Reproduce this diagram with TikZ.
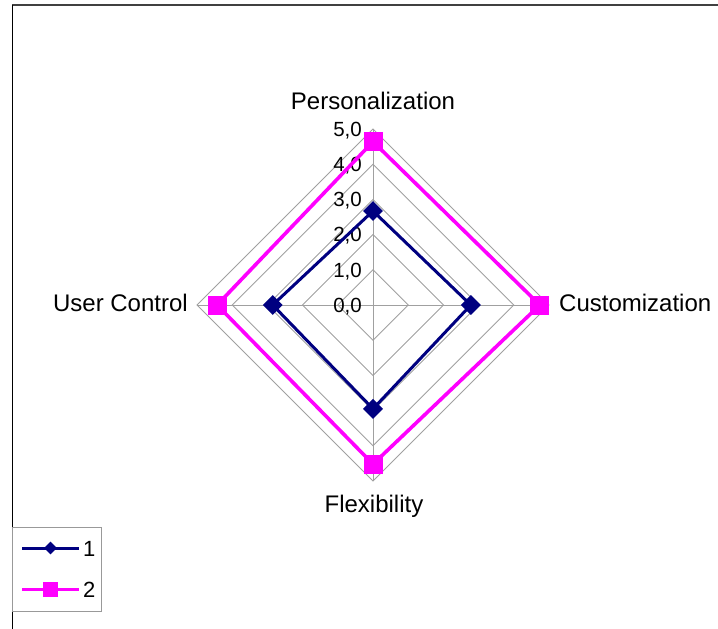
\documentclass[tikz,border=0pt]{standalone}
\usepackage{fontspec}
\setmainfont{Liberation Sans}
\usetikzlibrary{shapes.geometric}
\definecolor{navyline}{HTML}{000080}
\definecolor{pinkline}{HTML}{FF00FF}
\definecolor{gridgray}{HTML}{A0A0A0}
\begin{document}
\begin{tikzpicture}[x=1pt,y=-1pt,
  gridline/.style={draw=gridgray, line width=0.9pt},
  axislabel/.style={font=\fontsize{24}{27}\selectfont, inner sep=0pt},
  ticklabel/.style={font=\fontsize{20.5}{23}\selectfont, inner sep=0pt, anchor=base east},
  seriesA/.style={draw=navyline, line width=3pt, line join=miter},
  seriesB/.style={draw=pinkline, line width=3.6pt, line join=miter},
  markA/.style={diamond, fill=navyline, inner sep=0pt, minimum width=20pt, minimum height=20pt},
  markB/.style={rectangle, fill=pinkline, inner sep=0pt, minimum size=19pt},
  legmarkA/.style={diamond, fill=navyline, inner sep=0pt, minimum width=13pt, minimum height=13pt},
  legmarkB/.style={rectangle, fill=pinkline, inner sep=0pt, minimum size=15pt},
  legtext/.style={font=\fontsize{22}{26}\selectfont, inner sep=0pt, anchor=base west}]
\useasboundingbox (0,0) rectangle (718,629);

% chart frame
\draw[black!75, line width=2pt] (12,5) -- (718,5);
\draw[black, line width=1pt] (12,5) -- (12,629);

% radar grid: centre and unit length
\def\cx{373}\def\cy{305}\def\u{35.2}
\coordinate (c) at (\cx,\cy);
\foreach \k in {1,...,5}{
  \draw[gridline] (\cx,{\cy-\k*\u}) -- ({\cx+\k*\u},\cy) -- (\cx,{\cy+\k*\u}) -- ({\cx-\k*\u},\cy) -- cycle;
}
\coordinate (top) at (\cx,{\cy-5*\u});
\coordinate (bot) at (\cx,{\cy+5*\u});
\coordinate (lft) at ({\cx-5*\u},\cy);
\coordinate (rgt) at ({\cx+5*\u},\cy);
\draw[gridline] (top) -- (bot);
\draw[gridline] (lft) -- (rgt);

% scale labels
\foreach \k in {0,...,5}{
  \node[ticklabel] (t\k) at (362,{\cy-\k*\u+7.3}) {\k,0};
}

% axis labels
\node[axislabel, anchor=base] (pers) at (373,109) {Personalization};
\node[axislabel, anchor=base west] (cust) at (559,311) {Customization};
\node[axislabel, anchor=base] (flex) at (374,512) {Flexibility};
\node[axislabel, anchor=base east] (user) at (188,311) {User Control};

% series 1
\coordinate (a1) at (\cx,{\cy-2.67*\u});
\coordinate (a2) at ({\cx+2.78*\u},\cy);
\coordinate (a3) at (\cx,{\cy+2.95*\u});
\coordinate (a4) at ({\cx-2.85*\u},\cy);
\draw[seriesA] (a1) -- (a2) -- (a3) -- (a4) -- cycle;
\foreach \p in {a1,a2,a3,a4} \node[markA] at (\p) {};

% series 2
\coordinate (b1) at (\cx,{\cy-4.64*\u});
\coordinate (b2) at ({\cx+4.74*\u},\cy);
\coordinate (b3) at (\cx,{\cy+4.52*\u});
\coordinate (b4) at ({\cx-4.43*\u},\cy);
\draw[seriesB] (b1) -- (b2) -- (b3) -- (b4) -- cycle;
\foreach \p in {b1,b2,b3,b4} \node[markB] at (\p) {};

% legend
\node[draw=gray!80, line width=1pt, inner sep=0pt, minimum width=89pt, minimum height=84pt, anchor=north west] (legend) at (12,527) {};
\coordinate (la0) at (22,548); \coordinate (la1) at (79,548);
\coordinate (lb0) at (22,589); \coordinate (lb1) at (79,589);
\draw[navyline, line width=3pt] (la0) -- (la1);
\node[legmarkA] (lma) at (50.5,548) {};
\draw[pinkline, line width=3pt] (lb0) -- (lb1);
\node[legmarkB] (lmb) at (50.5,589) {};
\node[legtext] (l1) at (83,556) {1};
\node[legtext] (l2) at (83,597) {2};
\end{tikzpicture}
\end{document}
